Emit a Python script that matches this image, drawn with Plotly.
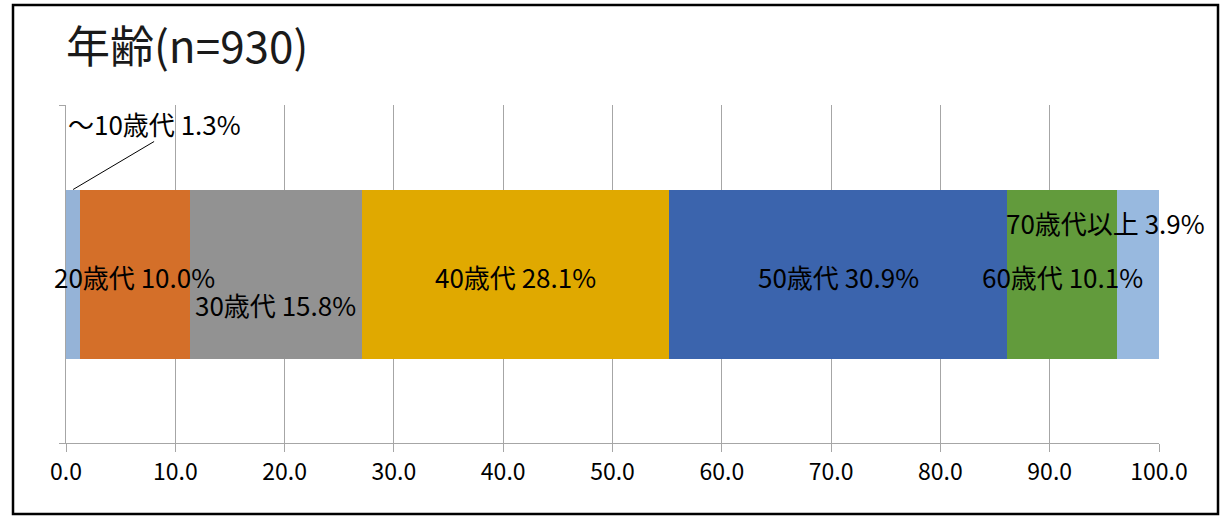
import plotly.graph_objects as go

categories = ["～10歳代", "20歳代", "30歳代", "40歳代", "50歳代", "60歳代", "70歳代以上"]
values = [1.3, 10.0, 15.8, 28.1, 30.9, 10.1, 3.9]
colors = ["#95B3D7", "#D46F29", "#929292", "#E0A900", "#3B64AD", "#629B3C", "#98B9DF"]
tick_vals = [0, 10, 20, 30, 40, 50, 60, 70, 80, 90, 100]
title_text = "年齢(n=930)"

FONT = "Noto Sans CJK JP, sans-serif"
BAR_W = 0.5
PX_PER_X = 1093 / 100
PX_PER_Y = 338 / 1

fig = go.Figure()
for cat, val, col in zip(categories, values, colors):
    fig.add_trace(go.Bar(
        x=[val], y=[0], orientation="h", name=cat, width=BAR_W,
        marker=dict(color=col, line=dict(width=0)),
        hoverinfo="x+name",
    ))

# label offsets in pixels (xshift, yshift) per segment
offsets = [None, (0, -2), (0, -30), (0, -2), (0, -2), (0, -2), (-33, 52)]
cum = 0
annotations = []
for i, (cat, val) in enumerate(zip(categories, values)):
    center = cum + val / 2
    cum += val
    text = f"{cat} {val:.1f}%"
    if offsets[i] is None:
        annotations.append(dict(
            x=center, y=BAR_W / 2, xref="x", yref="y",
            text=text, showarrow=False, xanchor="center", yanchor="middle",
            xshift=81, yshift=66,
            font=dict(family=FONT, size=26, color="#000000"),
        ))
        fig.add_shape(type="line", xref="x", yref="y",
                      x0=center, y0=BAR_W / 2,
                      x1=center + 81 / PX_PER_X, y1=BAR_W / 2 + 48 / PX_PER_Y,
                      line=dict(color="#000000", width=1))
    else:
        annotations.append(dict(
            x=center, y=0, xref="x", yref="y",
            text=text, showarrow=False, xanchor="center", yanchor="middle",
            xshift=offsets[i][0], yshift=offsets[i][1],
            font=dict(family=FONT, size=26, color="#000000"),
        ))

fig.update_layout(
    width=1228, height=517,
    margin=dict(l=66, r=69, t=105, b=74),
    paper_bgcolor="#FFFFFF", plot_bgcolor="#FFFFFF",
    barmode="stack", showlegend=False,
    title=dict(text=title_text, x=66 / 1228, xanchor="left", y=1 - 48 / 517, yanchor="middle",
               font=dict(family="Noto Sans CJK JP", size=44, color="#1a1a1a")),
    annotations=annotations,
    xaxis=dict(
        range=[0, 100], tickvals=tick_vals, tickformat=".1f",
        showgrid=True, gridcolor="#A6A6A6", gridwidth=1,
        showline=True, linecolor="#A6A6A6", linewidth=1,
        ticks="outside", ticklen=8, tickcolor="#A6A6A6",
        tickfont=dict(family=FONT, size=23, color="#000000"),
        zeroline=False, fixedrange=True,
    ),
    yaxis=dict(
        range=[-0.5, 0.5], tickvals=[-0.5, 0.5], ticktext=["", ""],
        showgrid=False, zeroline=False,
        showline=True, linecolor="#A6A6A6", linewidth=1,
        ticks="outside", ticklen=6, tickcolor="#A6A6A6",
        fixedrange=True,
    ),
)

# outer chart border
fig.add_shape(type="rect", xref="paper", yref="paper",
              x0=(13 - 66) / 1093, x1=(1218 - 66) / 1093,
              y0=(443 - 514) / 338, y1=(443 - 5) / 338,
              line=dict(color="#000000", width=2.5), fillcolor="rgba(0,0,0,0)", layer="above")

fig.write_html("out.html", config={"displayModeBar": False},
               post_script="document.body.style.margin='0';")
